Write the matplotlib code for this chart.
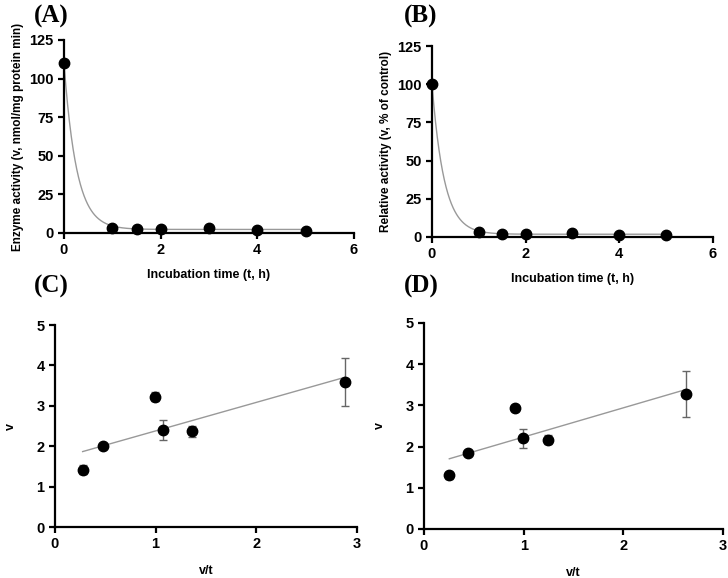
import numpy as np
import matplotlib
matplotlib.use("Agg")
import matplotlib.pyplot as plt

plt.rcParams['font.family'] = ['Liberation Sans', 'DejaVu Sans']

# Panel A / B data: incubation time (h) vs activity
time_h = [0, 1, 1.5, 2, 3, 4, 5]
activity_A = [110, 3.5, 2.5, 2.5, 3.0, 2.0, 1.5]
activity_B = [100, 3.0, 2.0, 2.0, 2.6, 1.6, 1.0]
# one-phase decay fit parameters (Y0, plateau, K)
fit_A = (110, 2.3, 3.85)
fit_B = (100, 1.8, 3.85)

# Panel C / D data: v/t vs v with SD
vt_C = [0.275, 0.476, 0.99, 1.075, 1.363, 2.88]
v_C = [1.42, 2.01, 3.22, 2.41, 2.37, 3.59]
err_C = [0.11, 0.04, 0.11, 0.25, 0.13, 0.60]
vt_D = [0.254, 0.44, 0.913, 0.99, 1.247, 2.63]
v_D = [1.30, 1.84, 2.94, 2.20, 2.17, 3.28]
err_D = [0.08, 0.04, 0.08, 0.23, 0.10, 0.55]

fig = plt.figure(figsize=(7.28, 5.78), dpi=100)

def style(ax):
    for s in ['top', 'right']:
        ax.spines[s].set_visible(False)
    for s in ['left', 'bottom']:
        ax.spines[s].set_linewidth(1.6)
    ax.tick_params(width=1.6, length=4, labelsize=10.5)
    for lab in ax.get_xticklabels() + ax.get_yticklabels():
        lab.set_fontweight('bold')

def decay_panel(rect, y, fit, ylabel):
    ax = fig.add_axes(rect)
    t = np.linspace(0, 5, 400)
    y0, plat, k = fit
    ax.plot(t, plat + (y0 - plat) * np.exp(-k * t), color='#999999', lw=1.0, zorder=2)
    ax.plot(time_h, y, 'o', color='black', ms=7.5, clip_on=False, zorder=3)
    ax.set_xlim(0, 6)
    ax.set_ylim(0, 125)
    ax.set_xticks([0, 2, 4, 6])
    ax.set_yticks([0, 25, 50, 75, 100, 125])
    ax.set_xlabel('Incubation time (t, h)', fontsize=9, fontweight='bold', labelpad=8)
    ax.set_ylabel(ylabel, fontsize=8.5, fontweight='bold', labelpad=4)
    style(ax)
    return ax

def lin_panel(rect, x, y, e):
    ax = fig.add_axes(rect)
    slope, icpt = np.polyfit(x, y, 1)
    xl = np.array([min(x), max(x)])
    ax.plot(xl, slope * xl + icpt, color='#999999', lw=1.0, zorder=2)
    ax.errorbar(x, y, yerr=e, fmt='o', color='black', ms=7.5, ecolor='#666666',
                elinewidth=1.0, capsize=3, capthick=1.0, zorder=3)
    ax.set_xlim(0, 3)
    ax.set_ylim(0, 5)
    ax.set_xticks([0, 1, 2, 3])
    ax.set_yticks([0, 1, 2, 3, 4, 5])
    ax.set_xlabel('v/t', fontsize=9, fontweight='bold', labelpad=10)
    ax.set_ylabel('v', fontsize=9, fontweight='bold', labelpad=14)
    style(ax)
    return ax

decay_panel([0.0879, 0.5969, 0.3984, 0.3339], activity_A, fit_A,
            'Enzyme activity (v, nmol/mg protein min)')
decay_panel([0.5934, 0.5900, 0.3860, 0.3304], activity_B, fit_B,
            'Relative activity (v, % of control)')
lin_panel([0.0755, 0.0882, 0.4148, 0.3495], vt_C, v_C, err_C)
lin_panel([0.5824, 0.0848, 0.4107, 0.3564], vt_D, v_D, err_D)

for lbl, x, y in [('(A)', 0.046, 0.992), ('(B)', 0.555, 0.992),
                  ('(C)', 0.046, 0.524), ('(D)', 0.555, 0.524)]:
    fig.text(x, y, lbl, fontsize=18, fontweight='bold', family='Liberation Serif',
             va='top', ha='left')

fig.savefig('out.png', dpi=100)
